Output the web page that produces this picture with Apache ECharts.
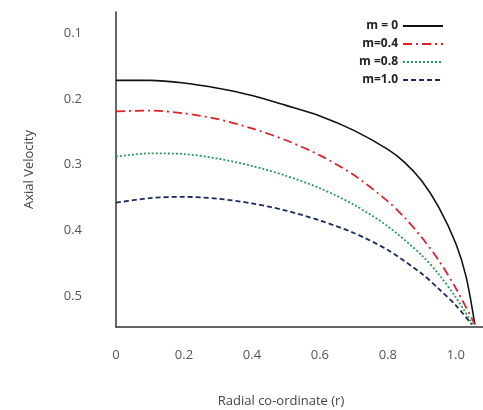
<!DOCTYPE html>
<html>
<head>
<meta charset="utf-8">
<script src="https://cdn.jsdelivr.net/npm/echarts@6/dist/echarts.min.js"></script>
<style>html,body{margin:0;padding:0;background:#fff;}#c{width:483px;height:410px;}</style>
</head>
<body>
<div id="c"></div>
<script>
// Data
const seriesNames = ['m = 0', 'm=0.4', 'm =0.8', 'm=1.0'];
const rM0   = [0, 0.1, 0.2, 0.3, 0.4, 0.5, 0.6, 0.7, 0.8, 0.85, 0.9, 0.95, 1.0, 1.03, 1.056];
const vM0   = [0.172, 0.172, 0.176, 0.184, 0.195, 0.210, 0.226, 0.248, 0.277, 0.297, 0.325, 0.365, 0.420, 0.470, 0.543];
const rM04  = [0, 0.1, 0.2, 0.3, 0.4, 0.5, 0.6, 0.7, 0.8, 0.85, 0.9, 0.95, 1.0, 1.056];
const vM04  = [0.219, 0.218, 0.222, 0.231, 0.245, 0.263, 0.286, 0.316, 0.356, 0.381, 0.411, 0.446, 0.488, 0.543];
const rM08  = [0, 0.1, 0.2, 0.3, 0.4, 0.5, 0.6, 0.7, 0.8, 0.9, 0.95, 1.0, 1.05];
const vM08  = [0.288, 0.283, 0.284, 0.291, 0.302, 0.317, 0.336, 0.361, 0.394, 0.438, 0.467, 0.502, 0.543];
const rM10  = [0, 0.1, 0.2, 0.3, 0.4, 0.5, 0.6, 0.7, 0.8, 0.9, 0.95, 1.0, 1.047];
const vM10  = [0.358, 0.351, 0.349, 0.352, 0.359, 0.370, 0.385, 0.404, 0.430, 0.466, 0.489, 0.514, 0.543];
const xTicks = [0, 0.2, 0.4, 0.6, 0.8, 1.0];
const xTickLabels = ['0', '0.2', '0.4', '0.6', '0.8', '1.0'];
const yTicks = [0.1, 0.2, 0.3, 0.4, 0.5];
const yTickLabels = ['0.1', '0.2', '0.3', '0.4', '0.5'];

const pair = (xs, ys) => xs.map((x, i) => [x, ys[i]]);
const font = 'Open Sans';

const chart = echarts.init(document.getElementById('c'));
chart.setOption({
  animation: false,
  backgroundColor: '#fff',
  title: {
    text: 'Radial co-ordinate (r)',
    left: 276, top: 390, textAlign: 'center',
    textStyle: { fontFamily: font, fontSize: 13, fontWeight: 'normal', color: '#444' }
  },
  grid: { left: 116, right: 0, top: 12, bottom: 83 },
  legend: {
    orient: 'vertical', right: 34, top: 15, align: 'right',
    itemWidth: 40, itemHeight: 10, itemGap: 6,
    itemStyle: { opacity: 0 },
    textStyle: { fontFamily: font, fontSize: 12, fontWeight: 'bold', color: '#222' },
    data: seriesNames
  },
  xAxis: {
    type: 'value', min: 0, max: 1.08,
    axisLine: { onZero: false, lineStyle: { color: '#333', width: 1.5 } },
    axisTick: { show: false },
    splitLine: { show: false },
    axisLabel: {
      customValues: xTicks, margin: 22,
      fontFamily: font, fontSize: 13, color: '#555',
      formatter: v => xTickLabels[xTicks.findIndex(t => Math.abs(t - v) < 1e-9)] ?? ''
    }
  },
  yAxis: {
    type: 'value', inverse: true, min: 0.068, max: 0.547,
    name: 'Axial Velocity', nameLocation: 'middle', nameGap: 80,
    nameTextStyle: { fontFamily: font, fontSize: 13, color: '#444' },
    axisLine: { show: true, lineStyle: { color: '#333', width: 1.5 } },
    axisTick: { show: false },
    splitLine: { show: false },
    axisLabel: {
      customValues: yTicks, margin: 34,
      fontFamily: font, fontSize: 13, color: '#555',
      formatter: v => yTickLabels[yTicks.findIndex(t => Math.abs(t - v) < 1e-9)] ?? ''
    }
  },
  series: [
    { name: seriesNames[0], type: 'line', smooth: 0.3, symbol: 'none', data: pair(rM0, vM0),
      lineStyle: { color: '#111', width: 1.6, type: 'solid' }, itemStyle: { color: '#111' } },
    { name: seriesNames[1], type: 'line', smooth: 0.3, symbol: 'none', data: pair(rM04, vM04),
      lineStyle: { color: '#e0202a', width: 1.8, type: [9, 4, 2, 4] }, itemStyle: { color: '#e0202a' } },
    { name: seriesNames[2], type: 'line', smooth: 0.3, symbol: 'none', data: pair(rM08, vM08),
      lineStyle: { color: '#2a9a5a', width: 1.8, type: [2, 2] }, itemStyle: { color: '#2a9a5a' } },
    { name: seriesNames[3], type: 'line', smooth: 0.3, symbol: 'none', data: pair(rM10, vM10),
      lineStyle: { color: '#1c2a5c', width: 1.8, type: [5, 3] }, itemStyle: { color: '#1c2a5c' } }
  ]
});
</script>
</body>
</html>
